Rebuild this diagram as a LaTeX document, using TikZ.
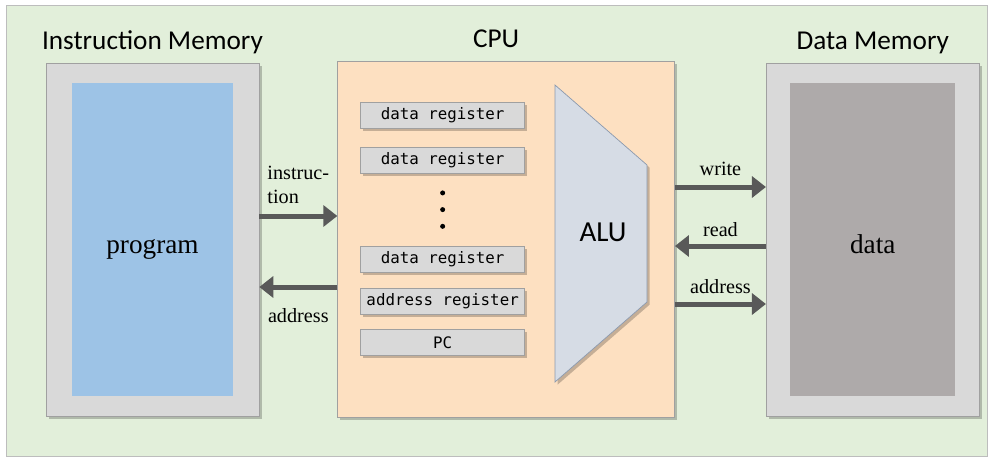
\documentclass[tikz,border=0pt]{standalone}
\usepackage{fontspec}
\setmainfont{Liberation Serif}
\setsansfont{Carlito}
\setmonofont{DejaVu Sans Mono}
\usepackage{xcolor}
\definecolor{BgGreen}{HTML}{E2EFDA}
\definecolor{FrameGrey}{HTML}{BDBDBD}
\definecolor{OuterGrey}{HTML}{D9D9D9}
\definecolor{EdgeGrey}{HTML}{A0A0A0}
\definecolor{ProgBlue}{HTML}{9DC3E6}
\definecolor{DataGrey}{HTML}{AEAAAA}
\definecolor{CpuPeach}{HTML}{FDE0C1}
\definecolor{AluBlue}{HTML}{D6DCE5}
\definecolor{AluEdge}{HTML}{8C9AAE}
\definecolor{ArrGrey}{HTML}{595959}
\usepackage{tikz}
\usetikzlibrary{arrows.meta,positioning,shadows}

\begin{document}
\begin{tikzpicture}[
  x=0.02cm,y=-0.02cm,
  shadowed/.style={drop shadow={shadow xshift=1.5pt,shadow yshift=-1.5pt,fill=black,opacity=0.22}},
  membox/.style={draw=EdgeGrey,fill=OuterGrey,minimum width=4.26cm,minimum height=7.06cm,shadowed},
  innerbox/.style={minimum height=6.28cm,text height=0.56cm,text depth=0pt,font=\fontsize{15.5}{18}\selectfont},
  cpubox/.style={draw=EdgeGrey,fill=CpuPeach,minimum width=6.74cm,minimum height=7.12cm,shadowed},
  title/.style={font=\sffamily\fontsize{15.5}{18}\selectfont,inner sep=0pt,text depth=0pt},
  reg/.style={draw=EdgeGrey,fill=OuterGrey,minimum width=3.28cm,minimum height=0.52cm,inner sep=0pt,font=\ttfamily\fontsize{9}{10}\selectfont,shadowed},
  dot/.style={circle,fill=black,inner sep=0pt,minimum size=0.1cm},
  arr/.style={-{Triangle[length=0.28cm,width=0.42cm]},line width=0.1cm,color=ArrGrey},
  lbl/.style={text=black,font=\fontsize{11.5}{13.5}\selectfont,inner sep=0pt,text depth=0pt}
]
\useasboundingbox (0,0) rectangle (988,457);
\draw[fill=BgGreen,draw=FrameGrey] (6,5) rectangle (987.5,456.5);

% memories and cpu
\node[membox] (imem) at (152.5,239.5) {};
\node[innerbox,fill=ProgBlue,minimum width=3.22cm] (prog) at (imem) {program};
\node[cpubox,right=1.56cm of imem] (cpu) {};
\node[membox,right=1.82cm of cpu] (dmem) {};
\node[innerbox,fill=DataGrey,minimum width=3.3cm] (data) at (dmem) {data};

\node[title,above=0.26cm of imem] (imemtitle) {Instruction Memory};
\node[title,above=0.26cm of cpu,xshift=-0.2cm] (cputitle) {CPU};
\node[title,above=0.26cm of dmem] (dmemtitle) {Data Memory};

% registers
\node[reg,below right=0.82cm and 0.46cm of cpu.north west] (reg1) {data register};
\node[reg,below=0.36cm of reg1] (reg2) {data register};
\node[dot,below=0.33cm of reg2] (dot1) {};
\node[dot,below=0.22cm of dot1] (dot2) {};
\node[dot,below=0.22cm of dot2] (dot3) {};
\node[reg,below=1.44cm of reg2] (reg3) {data register};
\node[reg,below=0.32cm of reg3] (areg) {address register};
\node[reg,below=0.28cm of areg] (pc) {PC};

% alu
\draw[draw=AluEdge,fill=AluBlue,shadowed] (555,85) -- (647,165) -- (647,302) -- (555,382) -- cycle;
\node[title,font=\sffamily\fontsize{16.5}{19}\selectfont] (alu) at (603,232) {ALU};

% buses
\draw[arr] (imem.east |- 0,216) -- (cpu.west |- 0,216)
  node[lbl,midway,above=0.2cm,align=left] (inslbl) {instruc-\\tion};
\draw[arr] (cpu.west |- 0,287) -- (imem.east |- 0,287)
  node[lbl,midway,below=0.38cm] (iaddrlbl) {address};
\draw[arr] (cpu.east |- 0,187) -- (dmem.west |- 0,187)
  node[lbl,midway,above=0.18cm] (wrlbl) {write};
\draw[arr] (dmem.west |- 0,246) -- (cpu.east |- 0,246)
  node[lbl,midway,above=0.14cm] (rdlbl) {read};
\draw[arr] (cpu.east |- 0,304) -- (dmem.west |- 0,304)
  node[lbl,midway,above=0.16cm] (daddrlbl) {address};
\end{tikzpicture}
\end{document}
